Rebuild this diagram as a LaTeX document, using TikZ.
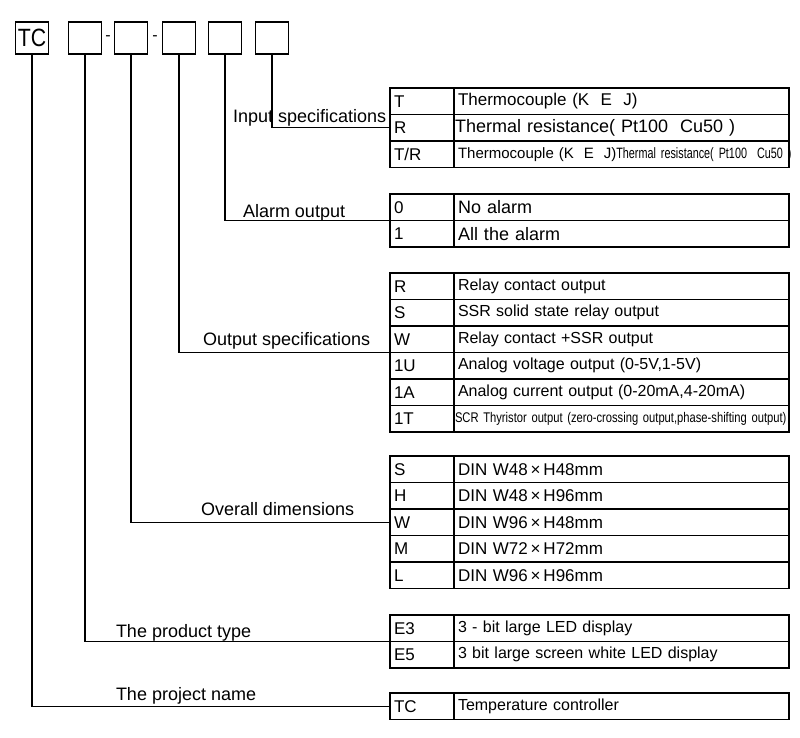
\documentclass[tikz,border=0pt]{standalone}
\usepackage{fontspec}
\setmainfont{Liberation Sans}
\newfontfamily\narrowfont[FakeStretch=0.72]{Liberation Sans}
\newfontfamily\scrfont[FakeStretch=0.80]{Liberation Sans}
\newfontfamily\boxfont[FakeStretch=0.85]{Liberation Sans}
\usetikzlibrary{positioning}
\tikzset{
x=1pt, y=-1pt, % one unit is one pixel of the sketch, y runs downwards
every node/.style={outer sep=0pt}, % so that cells share their borders
digit/.style={draw, line width=1.5pt, minimum width=33pt, minimum height=32pt, inner sep=0pt}, % the boxes of the order code
code/.style={draw, line width=1.8pt, minimum height=26.5pt, text width=56pt, inner sep=4pt, align=left, font=\fontsize{17}{17}\selectfont}, % left column
desc/.style={draw, line width=1.8pt, minimum height=26.5pt, text width=327pt, inner sep=4pt, align=left, font=\fontsize{17}{17}\selectfont}, % right column
link/.style={line width=1.5pt}, % lines from the boxes to the tables
caption/.style={anchor=base west, inner sep=0pt, font=\fontsize{18}{18}\selectfont}, % names of the fields
}

\begin{document}
\begin{tikzpicture}
    \useasboundingbox (0,0) rectangle (800,738);

    % the order code
    \node[digit, font=\boxfont\fontsize{25}{25}\selectfont] (tc) at (32,38) {TC};
    \node[digit, right=20pt of tc] (b1) {};
    \node[digit, right=13pt of b1] (b2) {};
    \node[digit, right=15pt of b2] (b3) {};
    \node[digit, right=13pt of b3] (b4) {};
    \node[digit, right=14pt of b4] (b5) {};
    \path (b1) -- (b2) node[midway, font=\fontsize{16}{16}\selectfont] (d1) {-};
    \path (b2) -- (b3) node[midway, font=\fontsize{16}{16}\selectfont] (d2) {-};

    % input specifications
    \node[code, anchor=north west] (inT) at (390,88) {T};
    \node[desc, right=0pt of inT] (inTd) {Thermocouple (K~~E~~J)};
    \node[code, below=0pt of inT] (inR) {R};
    \node[desc, right=0pt of inR, font=\fontsize{18}{18}\selectfont, inner xsep=1pt, text width=333pt] (inRd) {Thermal resistance( Pt100~~Cu50 )};
    \node[code, below=0pt of inR] (inTR) {T/R};
    \node[desc, right=0pt of inTR, font=\fontsize{15}{15}\selectfont] (inTRd) {\mbox{Thermocouple (K~~E~~J)\narrowfont Thermal resistance( Pt100~~Cu50 )}};

    % alarm output
    \node[code, anchor=north west] (al0) at (390,194) {0};
    \node[desc, right=0pt of al0, font=\fontsize{18}{18}\selectfont] (al0d) {No alarm};
    \node[code, below=0pt of al0] (al1) {1};
    \node[desc, right=0pt of al1, font=\fontsize{18}{18}\selectfont] (al1d) {All the alarm};

    % output specifications
    \node[code, anchor=north west] (ouR) at (390,273) {R};
    \node[desc, right=0pt of ouR, font=\fontsize{16}{16}\selectfont] (ouRd) {Relay contact output};
    \node[code, below=0pt of ouR] (ouS) {S};
    \node[desc, right=0pt of ouS, font=\fontsize{16}{16}\selectfont] (ouSd) {SSR solid state relay output};
    \node[code, below=0pt of ouS] (ouW) {W};
    \node[desc, right=0pt of ouW, font=\fontsize{16}{16}\selectfont] (ouWd) {Relay contact +SSR output};
    \node[code, below=0pt of ouW] (ouU) {1U};
    \node[desc, right=0pt of ouU, font=\fontsize{16}{16}\selectfont] (ouUd) {Analog voltage output (0-5V,1-5V)};
    \node[code, below=0pt of ouU] (ouA) {1A};
    \node[desc, right=0pt of ouA, font=\fontsize{16}{16}\selectfont] (ouAd) {Analog current output (0-20mA,4-20mA)};
    \node[code, below=0pt of ouA] (ouT) {1T};
    \node[desc, right=0pt of ouT, font=\scrfont\fontsize{14}{14}\selectfont, inner xsep=1pt, text width=333pt] (ouTd) {\mbox{SCR Thyristor output (zero-crossing output,phase-shifting output)}};

    % overall dimensions
    \node[code, anchor=north west] (odS) at (390,456) {S};
    \node[desc, right=0pt of odS] (odSd) {DIN W48\,×\,H48mm};
    \node[code, below=0pt of odS] (odH) {H};
    \node[desc, right=0pt of odH] (odHd) {DIN W48\,×\,H96mm};
    \node[code, below=0pt of odH] (odW) {W};
    \node[desc, right=0pt of odW] (odWd) {DIN W96\,×\,H48mm};
    \node[code, below=0pt of odW] (odM) {M};
    \node[desc, right=0pt of odM] (odMd) {DIN W72\,×\,H72mm};
    \node[code, below=0pt of odM] (odL) {L};
    \node[desc, right=0pt of odL] (odLd) {DIN W96\,×\,H96mm};

    % product type
    \node[code, anchor=north west] (pt3) at (390,615) {E3};
    \node[desc, right=0pt of pt3, font=\fontsize{16}{16}\selectfont] (pt3d) {3 - bit large LED display};
    \node[code, below=0pt of pt3] (pt5) {E5};
    \node[desc, right=0pt of pt5, font=\fontsize{16}{16}\selectfont] (pt5d) {3 bit large screen white LED display};

    % project name
    \node[code, anchor=north west] (pnTC) at (390,693) {TC};
    \node[desc, right=0pt of pnTC, font=\fontsize{16}{16}\selectfont] (pnTCd) {Temperature controller};

    % field names
    \node[caption] (cin) at (233,123) {Input specifications};
    \node[caption] (cal) at (243,218) {Alarm output};
    \node[caption] (cou) at (203,345) {Output specifications};
    \node[caption] (cod) at (201,515) {Overall dimensions};
    \node[caption] (cpt) at (116,637) {The product type};
    \node[caption] (cpn) at (116,700) {The project name};

    % links
    \draw[link] (b5.south) |- (inR.west);
    \draw[link] (b4.south) |- (al0.south west);
    \draw[link] (b3.south) |- (ouW.south west);
    \draw[link] (b2.south) |- (odW.west);
    \draw[link] (b1.south) |- (pt3.south west);
    \draw[link] (tc.south) |- (pnTC.west);
\end{tikzpicture}
\end{document}
